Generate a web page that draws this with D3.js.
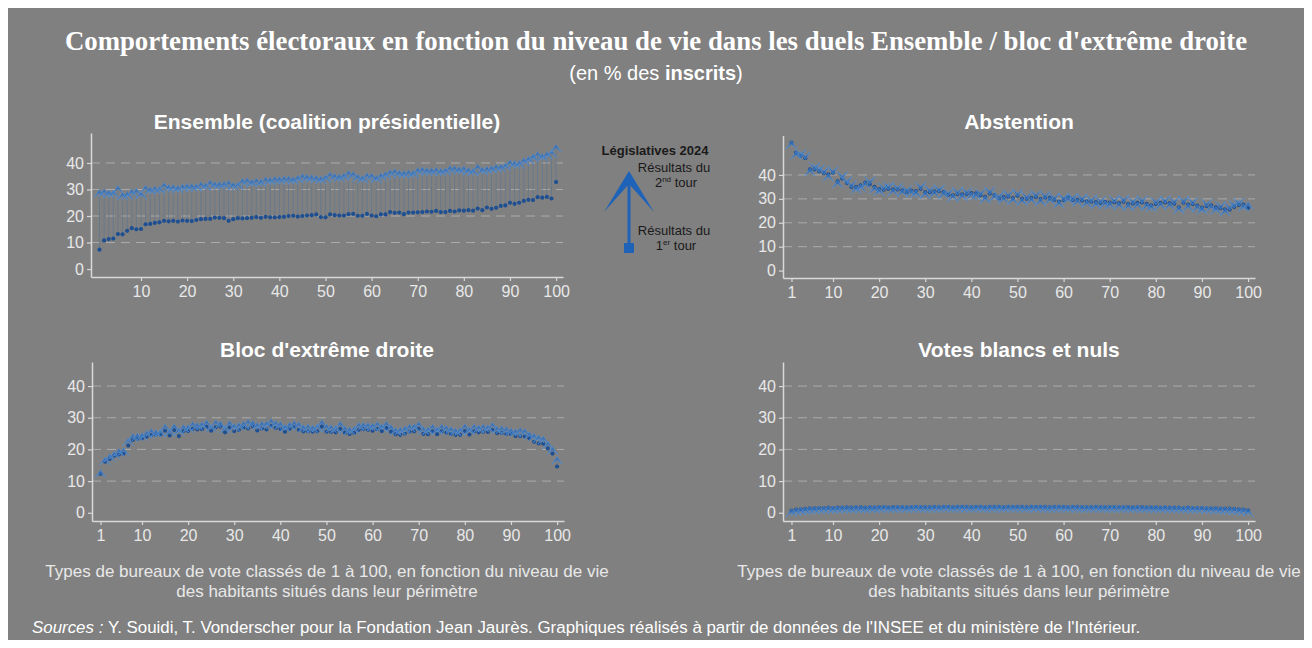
<!DOCTYPE html>
<html>
<head>
<meta charset="utf-8">
<script src="https://cdn.jsdelivr.net/npm/d3@7"></script>
<style>
  body { margin: 0; background: #ffffff; }
  text { font-family: "Liberation Sans", Arial, sans-serif; }
</style>
</head>
<body>
<script>
// Rangs des bureaux de vote (1 à 100)
const ranks = d3.range(1, 101);
const tickValuesX = [1, 10, 20, 30, 40, 50, 60, 70, 80, 90, 100];
const tickValuesY = [0, 10, 20, 30, 40];

// Ensemble : 1er tour / 2nd tour
const ens1 = [7.3, 10.8, 11.3, 11.5, 13.2, 13.1, 14.4, 15.4, 15.0, 15.1,
  16.9, 17.0, 17.4, 17.6, 18.2, 18.0, 18.2, 17.9, 18.3, 18.2,
  18.1, 18.5, 18.8, 18.9, 18.9, 19.4, 19.3, 19.2, 18.2, 18.8,
  19.2, 19.1, 19.2, 19.3, 19.6, 19.3, 19.7, 19.5, 19.5, 19.6,
  19.7, 20.0, 20.1, 19.8, 20.0, 20.2, 20.3, 20.6, 19.6, 19.5,
  20.6, 20.3, 20.2, 20.2, 20.7, 20.8, 20.1, 20.1, 20.8, 20.2,
  19.9, 20.6, 20.6, 21.5, 21.2, 21.3, 20.7, 21.3, 21.3, 21.4,
  21.5, 21.7, 21.6, 21.9, 21.5, 21.5, 21.9, 21.7, 22.1, 22.0,
  22.2, 22.0, 22.8, 22.2, 23.2, 22.7, 23.1, 23.8, 24.0, 25.0,
  24.6, 25.0, 25.7, 26.1, 26.0, 27.1, 26.9, 27.2, 26.6, 32.8];
const ens2 = [30.0, 30.3, 29.8, 29.8, 31.5, 29.0, 29.2, 30.2, 30.5, 29.3,
  31.6, 31.0, 31.3, 31.2, 32.6, 31.9, 31.9, 31.6, 32.1, 32.3,
  32.3, 32.2, 32.9, 32.5, 33.6, 33.0, 33.0, 33.1, 33.5, 32.7,
  32.8, 34.2, 34.4, 33.8, 34.3, 33.9, 34.8, 34.6, 35.0, 34.9,
  35.1, 35.2, 34.8, 35.4, 36.0, 35.7, 35.6, 35.4, 35.1, 35.6,
  36.6, 36.1, 35.8, 36.2, 37.2, 36.8, 35.8, 35.3, 36.3, 36.2,
  35.4, 36.2, 36.8, 37.5, 37.8, 37.3, 37.2, 37.4, 37.2, 38.3,
  38.5, 38.2, 38.2, 38.4, 38.0, 38.2, 39.0, 39.0, 38.6, 38.9,
  38.3, 38.0, 39.6, 38.4, 38.8, 39.0, 39.5, 39.6, 40.0, 41.2,
  40.9, 40.9, 42.0, 42.5, 43.4, 44.3, 43.6, 44.3, 45.0, 47.0];

// Abstention : 1er tour / 2nd tour
const abs1 = [53.5, 49.3, 48.0, 47.0, 42.3, 42.3, 41.5, 40.8, 40.3, 40.9,
  37.3, 38.5, 36.6, 35.0, 35.0, 35.6, 36.8, 36.2, 35.0, 34.1,
  33.8, 34.2, 34.0, 33.9, 33.6, 32.9, 33.5, 33.2, 34.2, 32.8,
  32.8, 33.1, 33.2, 32.8, 31.7, 31.5, 32.0, 31.9, 32.0, 32.4,
  32.3, 31.5, 30.8, 32.2, 31.6, 30.2, 30.7, 30.9, 30.3, 31.3,
  30.0, 30.0, 30.4, 30.8, 29.9, 30.5, 30.4, 29.6, 28.9, 29.5,
  30.6, 29.5, 29.6, 29.3, 29.0, 28.8, 28.6, 28.3, 28.8, 28.4,
  28.6, 28.2, 28.8, 27.8, 28.1, 28.3, 28.5, 27.9, 27.3, 27.9,
  28.3, 28.5, 28.2, 28.0, 26.5, 28.4, 27.6, 27.8, 27.2, 26.3,
  27.0, 27.3, 26.4, 26.1, 25.6, 25.5, 26.6, 27.4, 27.6, 26.2];
const abs2 = [54.2, 49.8, 47.4, 46.5, 42.8, 41.9, 41.0, 40.2, 40.6, 40.3,
  37.8, 38.2, 36.1, 34.6, 35.5, 36.1, 37.3, 36.0, 35.4, 34.5,
  33.4, 33.8, 34.4, 33.4, 34.0, 32.4, 33.9, 33.7, 33.8, 33.2,
  32.4, 33.6, 32.7, 33.2, 31.2, 32.0, 31.6, 32.3, 31.6, 32.8,
  32.7, 31.1, 31.3, 31.8, 32.0, 29.8, 31.1, 30.5, 30.8, 30.9,
  30.4, 29.6, 30.8, 30.4, 30.3, 30.0, 30.8, 29.2, 29.3, 29.1,
  31.0, 29.1, 30.0, 28.9, 29.4, 28.4, 29.0, 28.0, 29.2, 28.9,
  28.2, 28.6, 28.4, 28.2, 27.7, 28.6, 28.1, 28.3, 27.8, 27.5,
  28.7, 28.1, 28.6, 27.6, 27.0, 28.0, 28.0, 27.4, 27.6, 26.8,
  26.6, 27.7, 26.8, 25.7, 26.0, 25.2, 26.2, 27.0, 28.0, 28.8];

// Bloc d'extrême droite : 1er tour / 2nd tour
const rn1 = [12.3, 16.1, 17.0, 18.0, 18.4, 18.6, 21.2, 23.0, 23.3, 23.5,
  24.0, 24.5, 24.6, 24.7, 25.9, 24.4, 26.1, 24.2, 25.8, 25.8,
  26.5, 26.3, 26.4, 27.1, 25.9, 27.0, 27.2, 25.4, 26.9, 25.8,
  26.2, 26.9, 26.6, 27.3, 26.0, 26.6, 26.3, 27.4, 26.8, 26.5,
  25.6, 26.5, 27.0, 26.2, 25.7, 25.7, 25.6, 25.7, 27.2, 25.6,
  25.5, 25.4, 26.5, 25.3, 24.9, 25.2, 26.2, 26.4, 26.2, 25.9,
  26.4, 25.8, 26.7, 25.6, 24.8, 24.6, 25.0, 25.6, 25.7, 26.5,
  24.9, 24.8, 25.7, 24.8, 25.7, 25.3, 24.9, 24.6, 24.6, 25.8,
  24.7, 25.7, 25.4, 25.6, 25.5, 26.1, 25.1, 25.2, 24.9, 24.9,
  24.2, 24.2, 24.1, 23.5, 22.4, 21.9, 21.8, 20.3, 18.7, 14.6];
const rn2 = [13.6, 17.6, 18.6, 19.4, 20.3, 20.6, 23.6, 25.0, 25.2, 25.3,
  26.0, 26.6, 26.3, 26.4, 28.0, 26.5, 28.1, 26.8, 27.9, 27.8,
  28.8, 28.5, 28.7, 29.3, 27.9, 29.4, 29.0, 27.5, 29.1, 28.2,
  28.5, 28.9, 29.5, 29.2, 28.5, 28.9, 29.0, 29.7, 29.1, 28.8,
  27.9, 28.6, 29.1, 28.7, 27.8, 28.0, 27.7, 28.0, 29.4, 28.0,
  27.8, 27.5, 28.9, 27.4, 27.1, 27.3, 28.5, 28.6, 28.5, 28.3,
  28.8, 28.1, 28.9, 27.8, 26.9, 27.0, 27.4, 28.0, 28.1, 28.8,
  27.2, 27.1, 28.0, 27.1, 28.0, 27.6, 27.2, 26.8, 26.9, 28.1,
  27.0, 28.0, 27.7, 28.0, 27.8, 28.5, 27.3, 27.5, 27.2, 26.8,
  26.5, 26.9, 26.6, 25.6, 25.1, 24.6, 24.2, 22.6, 20.9, 17.8];

// Votes blancs et nuls : 1er tour / 2nd tour
const bn1 = [0.7, 1.0, 1.1, 1.2, 1.4, 1.4, 1.5, 1.5, 1.6, 1.5,
  1.6, 1.6, 1.7, 1.6, 1.7, 1.7, 1.6, 1.7, 1.7, 1.8,
  1.8, 1.7, 1.8, 1.8, 1.8, 1.7, 1.8, 1.9, 1.8, 1.8,
  1.8, 1.9, 1.8, 1.9, 1.9, 1.8, 1.9, 1.9, 1.9, 1.8,
  1.9, 1.9, 1.8, 1.9, 1.9, 1.9, 1.8, 1.9, 1.9, 1.9,
  1.9, 1.8, 1.9, 1.9, 1.9, 1.9, 1.8, 1.9, 1.9, 1.9,
  1.8, 1.9, 1.9, 1.8, 1.8, 1.8, 1.9, 1.8, 1.8, 1.8,
  1.8, 1.8, 1.8, 1.8, 1.7, 1.8, 1.8, 1.7, 1.7, 1.7,
  1.6, 1.7, 1.6, 1.6, 1.6, 1.5, 1.6, 1.5, 1.5, 1.5,
  1.4, 1.4, 1.4, 1.3, 1.3, 1.3, 1.2, 1.1, 1.0, 0.8];
const bn2 = [1.2, 1.5, 1.7, 1.8, 2.0, 2.0, 2.1, 2.1, 2.2, 2.1,
  2.2, 2.3, 2.3, 2.2, 2.4, 2.3, 2.3, 2.4, 2.4, 2.4,
  2.5, 2.4, 2.4, 2.5, 2.5, 2.4, 2.5, 2.6, 2.5, 2.5,
  2.5, 2.6, 2.5, 2.6, 2.6, 2.5, 2.6, 2.6, 2.6, 2.5,
  2.6, 2.6, 2.5, 2.6, 2.6, 2.6, 2.5, 2.6, 2.6, 2.6,
  2.6, 2.5, 2.6, 2.6, 2.6, 2.5, 2.5, 2.6, 2.6, 2.6,
  2.5, 2.6, 2.5, 2.5, 2.5, 2.5, 2.6, 2.5, 2.5, 2.5,
  2.5, 2.5, 2.5, 2.4, 2.4, 2.5, 2.4, 2.4, 2.4, 2.4,
  2.3, 2.4, 2.3, 2.3, 2.3, 2.2, 2.3, 2.2, 2.2, 2.2,
  2.1, 2.1, 2.0, 2.0, 1.9, 1.9, 1.8, 1.7, 1.6, 1.3];

const W = 1312, H = 648;
const bg = "#808080";
const light = "#e8e8e8";
const blueDot = "#1d4f92";
const blueHead = "#2f6cb6";

const svg = d3.select("body").append("svg")
    .attr("width", W)
    .attr("height", H);

svg.append("rect").attr("width", W).attr("height", H).attr("fill", "#ffffff");
svg.append("rect")
    .attr("x", 8).attr("y", 8)
    .attr("width", W - 16).attr("height", H - 16)
    .attr("fill", bg);

// Titre principal
svg.append("text")
    .attr("x", 656).attr("y", 50)
    .attr("text-anchor", "middle")
    .attr("fill", "#ffffff")
    .style("font-family", "'Liberation Serif', 'Times New Roman', serif")
    .style("font-weight", "bold")
    .style("font-size", "26.8px")
    .text("Comportements électoraux en fonction du niveau de vie dans les duels Ensemble / bloc d'extrême droite");

const sub = svg.append("text")
    .attr("x", 656).attr("y", 80)
    .attr("text-anchor", "middle")
    .attr("fill", "#ffffff")
    .style("font-size", "20px");
sub.append("tspan").text("(en % des ");
sub.append("tspan").style("font-weight", "bold").text("inscrits");
sub.append("tspan").text(")");

function drawPanel(cfg) {
    const x = d3.scaleLinear().domain([-0.84, 101.5]).range(cfg.xr);
    const y = d3.scaleLinear().domain(cfg.yd).range(cfg.yr);
    const g = svg.append("g");

    // Grille horizontale en pointillés
    g.selectAll(".grid")
        .data([10, 20, 30, 40])
        .enter().append("line")
        .attr("x1", cfg.xr[0]).attr("x2", cfg.xr[1])
        .attr("y1", (d) => y(d)).attr("y2", (d) => y(d))
        .attr("stroke", "#ababab")
        .attr("stroke-width", 1)
        .attr("stroke-dasharray", "9,6");

    // Axes
    const xAxis = g.append("g")
        .attr("transform", "translate(0," + cfg.yr[0] + ")")
        .call(d3.axisBottom(x).tickValues(cfg.xticks).tickSize(4).tickSizeOuter(0).tickPadding(5));
    const yAxis = g.append("g")
        .attr("transform", "translate(" + cfg.xr[0] + ",0)")
        .call(d3.axisLeft(y).tickValues(tickValuesY).tickSize(4).tickSizeOuter(0).tickPadding(3));
    [xAxis, yAxis].forEach((a) => {
        a.select(".domain").attr("stroke", "#d8d8d8").attr("stroke-width", 1.5);
        a.selectAll(".tick line").attr("stroke", "#d8d8d8").attr("stroke-width", 1.2);
        a.selectAll(".tick text")
            .attr("fill", light)
            .style("font-family", "'Liberation Sans', Arial, sans-serif")
            .style("font-size", "16px");
    });

    const data = ranks.map((r, i) => ({ r, v1: cfg.s1[i], v2: cfg.s2[i] }));

    // Segments entre 1er et 2nd tour
    g.selectAll(".seg")
        .data(data)
        .enter().append("line")
        .attr("x1", (d) => x(d.r)).attr("x2", (d) => x(d.r))
        .attr("y1", (d) => y(d.v1)).attr("y2", (d) => y(d.v2))
        .attr("stroke", "#62778f")
        .attr("stroke-width", 0.8);

    // Points du 1er tour
    g.selectAll(".dot")
        .data(data)
        .enter().append("circle")
        .attr("cx", (d) => x(d.r))
        .attr("cy", (d) => y(d.v1))
        .attr("r", 2.1)
        .attr("fill", blueDot);

    // Pointes de flèche du 2nd tour
    g.selectAll(".head")
        .data(data)
        .enter().append("path")
        .attr("d", (d) => {
            const cx = x(d.r), ty = y(d.v2);
            const dir = d.v2 >= d.v1 ? 1 : -1;
            return "M" + cx + "," + ty +
                "L" + (cx - 5.5) + "," + (ty + 8 * dir) +
                "L" + cx + "," + (ty + 3.5 * dir) +
                "L" + (cx + 5.5) + "," + (ty + 8 * dir) + "Z";
        })
        .attr("fill", blueHead)
        .attr("fill-opacity", 0.8)
        .attr("stroke", "#5b93d3")
        .attr("stroke-width", 0.7)
        .attr("stroke-opacity", 0.8);

    // Titre du panneau
    g.append("text")
        .attr("x", cfg.titleX).attr("y", cfg.titleY)
        .attr("text-anchor", "middle")
        .attr("fill", "#ffffff")
        .style("font-weight", "bold")
        .style("font-size", "21px")
        .text(cfg.title);

    if (cfg.xlabel) {
        const lab = g.append("text")
            .attr("x", cfg.titleX).attr("y", cfg.yr[0] + 56)
            .attr("text-anchor", "middle")
            .attr("fill", light)
            .style("font-size", "17px");
        lab.append("tspan").attr("x", cfg.titleX).attr("dy", 0)
            .text("Types de bureaux de vote classés de 1 à 100, en fonction du niveau de vie");
        lab.append("tspan").attr("x", cfg.titleX).attr("dy", 20)
            .text("des habitants situés dans leur périmètre");
    }
}

drawPanel({ title: "Ensemble (coalition présidentielle)", s1: ens1, s2: ens2,
    xr: [91, 563], yr: [277, 133], yd: [-3.0, 51.3], xticks: tickValuesX.slice(1),
    titleX: 327, titleY: 129 });
drawPanel({ title: "Abstention", s1: abs1, s2: abs2,
    xr: [783, 1255], yr: [278, 135.5], yd: [-3.1, 56.5], xticks: tickValuesX,
    titleX: 1019, titleY: 129 });
drawPanel({ title: "Bloc d'extrême droite", s1: rn1, s2: rn2,
    xr: [92, 564], yr: [521, 362], yd: [-2.6, 47.6], xticks: tickValuesX,
    titleX: 327, titleY: 357, xlabel: true });
drawPanel({ title: "Votes blancs et nuls", s1: bn1, s2: bn2,
    xr: [783, 1255], yr: [521, 362], yd: [-2.6, 47.6], xticks: tickValuesX,
    titleX: 1019, titleY: 357, xlabel: true });

// Légende
const leg = svg.append("g");
const legBlue = "#1f63b8";
const legDark = "#1a1a1a";
leg.append("text")
    .attr("x", 655).attr("y", 155)
    .attr("text-anchor", "middle")
    .attr("fill", legDark)
    .style("font-weight", "bold")
    .style("font-size", "13px")
    .text("Législatives 2024");
leg.append("line")
    .attr("x1", 629).attr("x2", 629)
    .attr("y1", 180).attr("y2", 246)
    .attr("stroke", legBlue).attr("stroke-width", 3);
leg.append("path")
    .attr("d", "M629,171L604,212L629,184L654,212Z")
    .attr("fill", legBlue);
leg.append("rect")
    .attr("x", 624).attr("y", 243)
    .attr("width", 10).attr("height", 10)
    .attr("fill", legBlue);

function legText(xc, y, txt, sup, rest) {
    const t = leg.append("text")
        .attr("x", xc).attr("y", y)
        .attr("text-anchor", "middle")
        .attr("fill", legDark)
        .style("font-size", "13px");
    t.append("tspan").text(txt);
    if (sup) {
        t.append("tspan").attr("dy", -5).style("font-size", "8px").text(sup);
        t.append("tspan").attr("dy", 5).text(rest);
    }
}
legText(674, 172, "Résultats du");
legText(676, 187, "2", "nd", " tour");
legText(674, 235, "Résultats du");
legText(676, 250, "1", "er", " tour");

// Source
const src = svg.append("text")
    .attr("x", 32).attr("y", 633)
    .attr("fill", "#ffffff")
    .style("font-size", "16.9px");
src.append("tspan").style("font-style", "italic").text("Sources : ");
src.append("tspan").text("Y. Souidi, T. Vonderscher pour la Fondation Jean Jaurès. Graphiques réalisés à partir de données de l'INSEE et du ministère de l'Intérieur.");
</script>
</body>
</html>
